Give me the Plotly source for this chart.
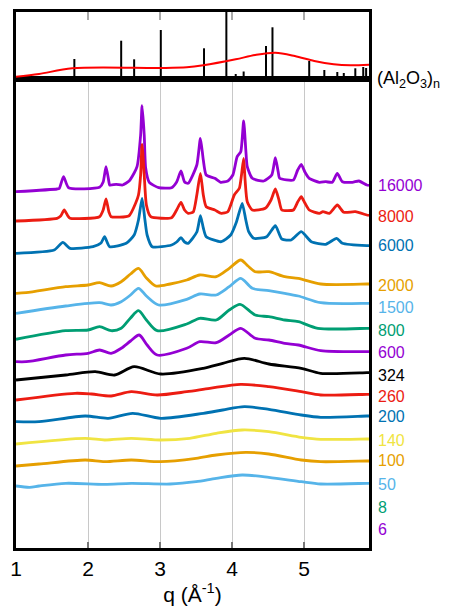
import plotly.graph_objects as go

# ---------------- data (q in 1/Angstrom, intensity in arbitrary offset units) ----------------
q_16000 = [1.00,1.57,1.60,1.66,1.73,2.16,2.21,2.25,2.29,2.30,2.39,2.48,2.57,2.64,2.68,2.73,2.75,2.78,2.80,2.85,2.98,3.16,3.23,3.29,3.34,3.39,3.51,3.56,3.60,3.64,3.76,3.84,3.94,4.01,4.07,4.12,4.16,4.19,4.21,4.28,4.44,4.55,4.60,4.64,4.66,4.85,4.91,4.96,5.01,5.07,5.21,5.30,5.39,5.46,5.53,5.67,5.76,5.87,5.90]
i_16000 = [356.3,359,359.5,371.3,360.3,360.7,366,381.3,366,363,363.7,363,367,375,381.3,413,442.3,413,380,365.7,360.3,360.3,366,377,366,364.7,383,409.7,388,373,369.7,365.7,367,373,391.3,396.3,427,398,381.3,369.7,367,373,390.3,376,369.7,368,378,383.7,376,369.7,365.7,366.3,365.7,374.7,366.3,365.7,367,363,362.5]

q_8000 = [1.00,1.57,1.62,1.67,1.72,1.75,2.16,2.21,2.25,2.29,2.32,2.57,2.66,2.70,2.73,2.75,2.78,2.81,2.87,3.16,3.23,3.29,3.34,3.39,3.46,3.51,3.56,3.60,3.64,3.76,3.85,3.94,4.03,4.10,4.13,4.16,4.18,4.21,4.28,4.46,4.54,4.60,4.65,4.69,4.85,4.91,4.96,5.01,5.07,5.21,5.26,5.35,5.46,5.55,5.71,5.87,5.90]
i_8000 = [327,329.7,332,338,332,329.7,331.3,338,349,336,331.3,332.3,344.7,353,373,403.7,373,343,331.3,330.3,338,345.7,338,334.7,336,353,374.7,353,341.3,338,334.7,336.3,353,359.7,373,389.7,368,346.3,338,339.7,348,359,348,338,338,346,351.3,345,338,334.7,336.3,334.7,343,335.7,336.3,333,332.5]

q_6000 = [1.00,1.53,1.65,1.75,2.07,2.18,2.23,2.30,2.53,2.64,2.70,2.75,2.79,2.82,2.89,3.16,3.23,3.29,3.34,3.39,3.51,3.56,3.60,3.64,3.85,3.98,4.06,4.14,4.19,4.23,4.30,4.48,4.60,4.69,4.82,4.96,5.10,5.30,5.45,5.53,5.87,5.90]
i_6000 = [294.7,298,305.7,299.7,301.3,305,311.3,301.3,304.7,313,328,349.7,328,313,301.3,303,306,310.3,306,304.7,316,332.3,320,311.3,306.3,313,326,344.7,328,316.3,309.7,311.3,322.3,309,308,316.3,306.3,303.7,309.7,304.7,302.3,302.3]

q_2000 = [1.00,1.14,1.69,2.00,2.16,2.32,2.46,2.59,2.70,2.81,2.94,3.14,3.37,3.55,3.78,3.96,4.12,4.22,4.32,4.51,4.73,4.92,5.23,5.87,5.90]
i_2000 = [254.7,255.3,261.3,263,265.3,262,266.3,274,279.7,270,262,264,268,273,271.3,279.7,288,282,276.3,276.3,271.3,269.7,264,264,264]

q_1500 = [1.00,1.69,2.16,2.32,2.46,2.59,2.70,2.81,2.98,3.37,3.55,3.78,3.96,4.12,4.28,4.51,4.73,4.92,5.23,5.87,5.90]
i_1500 = [234.7,242,245.3,243,246.3,253,259.7,252,243,248.7,254,253,261.3,269.7,259.7,257.3,254.7,252,245.3,244.7,244.7]

q_800 = [1.00,1.69,2.00,2.16,2.32,2.46,2.59,2.70,2.81,2.96,3.37,3.55,3.78,3.96,4.11,4.32,4.51,4.73,4.92,5.19,5.87,5.90]
i_800 = [208.7,217.3,218,221.3,217.3,219.7,230,237.3,228,217.3,224,229.7,228,238,243.7,233,231.3,228,226.3,219.7,219.7,219.7]

q_600 = [1.00,1.14,1.69,2.00,2.16,2.32,2.46,2.59,2.71,2.82,2.96,3.37,3.55,3.78,3.96,4.12,4.32,4.51,4.73,4.92,5.23,5.87,5.90]
i_600 = [186.3,186.3,193,194.7,198,194.7,199.7,207,213,203,193,199.7,206.3,205.3,213,219.7,209.7,208,204.7,203,197.3,196.3,196.3]

q_324 = [1.00,1.69,2.10,2.37,2.64,3.01,3.60,3.87,4.17,4.51,4.96,5.23,5.87,5.90]
i_324 = [168,173,176.3,173,181.3,174,179.7,184.7,189.7,184,179.7,174.7,175.3,175.3]

q_260 = [1.00,1.82,2.05,2.32,2.60,2.96,3.37,3.69,4.12,4.51,4.96,5.23,5.87,5.90]
i_260 = [148,154.7,154,152,156.3,153,156.3,159.7,163.7,161.3,156.3,153,153.7,153.7]

q_200 = [1.00,1.32,1.96,2.28,2.62,3.01,3.60,3.87,4.17,4.51,4.96,5.23,5.87,5.90]
i_200 = [126.3,126.3,132,129.7,134.7,129.7,134.7,138,141.3,138.7,133,130.7,132,132]

q_140 = [1.00,1.96,2.23,2.60,3.01,3.41,3.78,4.14,4.51,4.96,5.23,5.87,5.90]
i_140 = [104,109.7,108,109.7,108,109.7,114.7,118,116.3,110.7,108.7,109,109]

q_100 = [1.00,1.32,1.96,2.23,2.60,3.01,3.50,3.78,4.19,4.51,4.96,5.23,5.87,5.90]
i_100 = [82,84,88,86.3,88,86.3,89.7,93,95.7,94,88,86.3,87,87]

q_50 = [1.00,1.19,1.32,1.69,2.23,2.60,3.14,3.50,3.78,4.14,4.51,4.96,5.23,5.87,5.90]
i_50 = [62,60.7,62,64.7,63.7,64.7,64,66.3,69.7,73,70.7,66.3,64,64.7,64.7]

# labels on the right: text, colour, vertical position (intensity units)
label_text = ["16000","8000","6000","2000","1500","800","600","324","260","200","140","100","50","8","6"]
label_pos = [363,331.3,303,263,240.7,218,195.3,173,152,132,108,87.3,64,40.7,18.7]
label_col = ["#9400D3","#EC1C12","#0072B2","#E69F00","#56B4E9","#009E73","#9400D3","#000000",
             "#EC1C12","#0072B2","#F0E442","#E69F00","#56B4E9","#009E73","#9400D3"]

# reference (Al2O3)n : amorphous curve and crystalline stick pattern
q_ref = [1.00,1.32,1.78,3.01,3.37,3.60,4.05,4.32,4.60,4.87,5.14,5.41,5.64,5.90]
i_ref = [2.3,5,10.7,11,11.7,13.7,19.7,24,26.3,23,18,14.7,13.7,14.3]
q_stick = [1.81,2.46,2.64,3.01,3.19,3.61,3.92,4.05,4.16,4.47,4.56,4.69,4.94,5.07,5.28,5.46,5.55,5.71,5.82,5.86]
i_stick = [20,38.3,19.7,49,2,30.7,70,5,7.5,33,51.7,3,3,18,9,7,6,10.7,12,11]

# ---------------- figure ----------------
FONT = "Liberation Sans, Arial, sans-serif"
series = [
    (q_16000, i_16000, "#9400D3", 0.55),
    (q_8000, i_8000, "#EC1C12", 0.55),
    (q_6000, i_6000, "#0072B2", 0.55),
    (q_2000, i_2000, "#E69F00", 0.8),
    (q_1500, i_1500, "#56B4E9", 0.8),
    (q_800, i_800, "#009E73", 0.8),
    (q_600, i_600, "#9400D3", 0.8),
    (q_324, i_324, "#000000", 0.8),
    (q_260, i_260, "#EC1C12", 0.8),
    (q_200, i_200, "#0072B2", 0.8),
    (q_140, i_140, "#F0E442", 0.8),
    (q_100, i_100, "#E69F00", 0.8),
    (q_50, i_50, "#56B4E9", 0.8),
]

fig = go.Figure()
for qs, ys, col, sm in series:
    fig.add_trace(go.Scatter(x=qs, y=ys, mode="lines", xaxis="x", yaxis="y",
                             line=dict(color=col, width=2.8, shape="spline", smoothing=sm),
                             showlegend=False, hoverinfo="skip"))

# sticks
sx, sy = [], []
for q, h in zip(q_stick, i_stick):
    sx += [q, q, None]
    sy += [0, h, None]
fig.add_trace(go.Scatter(x=sx, y=sy, mode="lines", xaxis="x2", yaxis="y2",
                         line=dict(color="black", width=2), showlegend=False, hoverinfo="skip"))
fig.add_trace(go.Scatter(x=q_ref, y=i_ref, mode="lines", xaxis="x2", yaxis="y2",
                         line=dict(color="#FF0000", width=2, shape="spline", smoothing=0.9),
                         showlegend=False, hoverinfo="skip"))

annotations = []
for t, y, c in zip(label_text, label_pos, label_col):
    annotations.append(dict(text=t, x=1, xref="paper", xanchor="left", xshift=7,
                            y=y, yref="y", yanchor="middle", showarrow=False,
                            font=dict(family=FONT, size=16, color=c)))
annotations.append(dict(text="(Al<sub>2</sub>O<sub>3</sub>)<sub>n</sub>", x=1, xref="paper",
                        xanchor="left", xshift=6, y=0.874, yref="paper", yanchor="middle",
                        showarrow=False, font=dict(family=FONT, size=18, color="black")))

fig.update_layout(
    width=451, height=609,
    margin=dict(l=10, r=82, t=12, b=61),
    paper_bgcolor="white", plot_bgcolor="white",
    font=dict(family=FONT, color="black"),
    showlegend=False,
    hovermode=False,
    annotations=annotations,
    xaxis=dict(domain=[0, 1], anchor="y", range=[1, 5.9], tickvals=[1, 2, 3, 4, 5],
               ticktext=["1", "2", "3", "4", "5"],
               ticks="inside", ticklen=6, tickwidth=1.5, tickcolor="#777777",
               showgrid=True, gridcolor="#c8c8c8", gridwidth=1.3,
               showline=True, linecolor="black", linewidth=2.5, mirror=True,
               zeroline=False, tickfont=dict(size=21, family=FONT, color="black"),
               title=dict(text="q (Å<sup>-1</sup>)", font=dict(size=21, family=FONT, color="black"),
                          standoff=4)),
    yaxis=dict(domain=[0, 0.875], anchor="x", range=[0, 469], showticklabels=False,
               ticks="", showgrid=False, zeroline=False,
               showline=True, linecolor="black", linewidth=2.5, mirror=True),
    xaxis2=dict(domain=[0, 1], anchor="y2", range=[1, 5.9], side="top",
                tickvals=[2, 3, 4, 5], showticklabels=False,
                ticks="inside", ticklen=8, tickwidth=1.5, tickcolor="#aaaaaa",
                showgrid=False, zeroline=False,
                showline=True, linecolor="black", linewidth=2.5, mirror=True),
    yaxis2=dict(domain=[0.875, 1], anchor="x2", range=[0, 67], showticklabels=False,
                ticks="", showgrid=False, zeroline=False,
                showline=True, linecolor="black", linewidth=2.5, mirror=True),
)

# remove the browser's default 8px page margin so the figure sits at the window's corner
fig.write_html("out.html", config={"displayModeBar": False},
               post_script="document.body.style.margin='0px';")
